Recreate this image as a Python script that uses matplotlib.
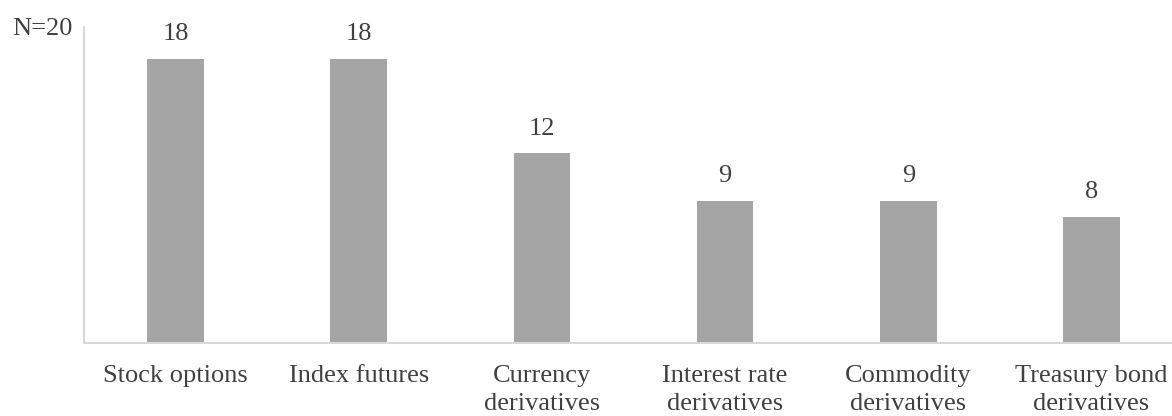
import matplotlib.pyplot as plt

# 数据
categories = ['Stock options', 'Index futures', 'Currency\nderivatives',
              'Interest rate\nderivatives', 'Commodity\nderivatives',
              'Treasury bond\nderivatives']
counts = [18, 18, 12, 9, 9, 8]
n_total = 20

plt.rcParams['font.family'] = ['Liberation Serif', 'DejaVu Serif']

fig = plt.figure(figsize=(11.72, 4.16), dpi=100)
ax = fig.add_axes([0.0717, 0.1755, 0.9377, 0.7596])

x = range(len(categories))
ax.bar(x, counts, width=0.31, color='#A5A5A5', zorder=2)

# 数值标签
for i, v in enumerate(counts):
	ax.annotate(str(v), (i, v), xytext=(0, 10), textcoords='offset points',
		ha='center', va='bottom', fontsize=19, color='#404040')

ax.set_xlim(-0.5, len(categories) - 0.5)
ax.set_ylim(0, n_total)
ax.set_xticks(list(x))
ax.set_xticklabels(categories, fontsize=19, color='#404040', linespacing=1.35)
ax.tick_params(axis='x', length=0, pad=16)
ax.set_yticks([])

for side in ['top', 'right']:
	ax.spines[side].set_visible(False)
for side in ['left', 'bottom']:
	ax.spines[side].set_color('#D9D9D9')
	ax.spines[side].set_linewidth(1.5)

ax.annotate('N=%d' % n_total, (0, n_total), xycoords=('axes fraction', 'data'),
	xytext=(-8.5, -1.5), textcoords='offset points', ha='right', va='center',
	fontsize=19, color='#404040')

fig.savefig('out.png', dpi=100)
